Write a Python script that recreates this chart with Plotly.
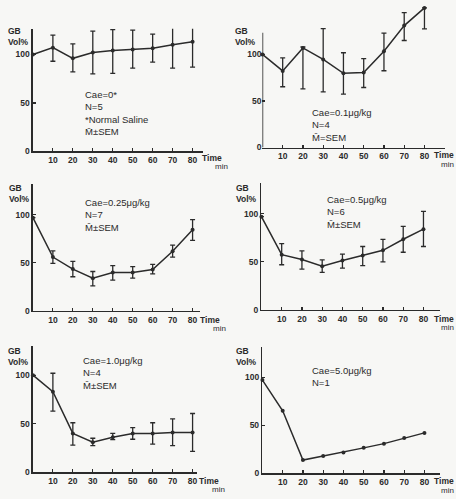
import plotly.graph_objects as go

W, H = 456, 499

times = [0, 10, 20, 30, 40, 50, 60, 70, 80]

# Panel 1: Cae = 0* (Normal Saline), N=5
p1_mean = [100, 107, 96, 102, 104, 105, 106.5, 110, 113]
p1_plus = [None, 13, 15, 22, 21.5, 20, 14.5, 22, 27]
p1_minus = [None, 14, 14, 22, 23.5, 19, 14.5, 24, 26]

# Panel 2: Cae = 0.1 ug/kg, N=4
p2_mean = [100, 82.3, 107, 94.7, 79.8, 80.5, 103.5, 131, 150]
p2_plus = [None, 14, 1, 33, 22, 15, 19.5, 14, None]
p2_minus = [None, 17, 44, 35, 22.5, 16, 21, 16, 22.5]

# Panel 3: Cae = 0.25 ug/kg, N=7
p3_mean = [97, 56, 43.5, 34, 40, 40, 43, 62, 84.5]
p3_plus = [None, 6.5, 8, 7, 7, 6, 5.5, 6.5, 10.5]
p3_minus = [None, 6.5, 8, 8, 8, 6, 4.5, 6, 11]

# Panel 4: Cae = 0.5 ug/kg, N=6
p4_mean = [97, 57.5, 52.5, 45.5, 51.5, 56.5, 62, 73.5, 84]
p4_plus = [None, 11.5, 9, 6.5, 6.5, 9.5, 11.5, 13.5, 18.5]
p4_minus = [None, 10.5, 10, 6.5, 8, 10.5, 12, 13.5, 18]

# Panel 5: Cae = 1.0 ug/kg, N=4
p5_mean = [100, 83, 40, 31, 36, 40, 40, 41, 41]
p5_plus = [None, 19, 11, 4, 4, 6, 11, 14, 19.5]
p5_minus = [None, 20, 12, 3.5, 2.5, 6, 11, 13.5, 19.5]

# Panel 6: Cae = 5.0 ug/kg, N=1
p6_mean = [97, 65, 13.7, 17.8, 21.6, 26.4, 30.8, 36.6, 42]

x_ticks = [10, 20, 30, 40, 50, 60, 70, 80]
y_ticks = [0, 50, 100]

labels = [
    ["Cae=0*", "N=5", "*Normal Saline", "M\u0304±SEM"],
    ["Cae=0.1\u03bcg/kg", "N=4", "M\u0304=SEM"],
    ["Cae=0.25\u03bcg/kg", "N=7", "M\u0304±SEM"],
    ["Cae=0.5\u03bcg/kg", "N=6", "M\u0304±SEM"],
    ["Cae=1.0\u03bcg/kg", "N=4", "M\u0304±SEM"],
    ["Cae=5.0\u03bcg/kg", "N=1"],
]

series = [
    (p1_mean, p1_plus, p1_minus),
    (p2_mean, p2_plus, p2_minus),
    (p3_mean, p3_plus, p3_minus),
    (p4_mean, p4_plus, p4_minus),
    (p5_mean, p5_plus, p5_minus),
    (p6_mean, None, None),
]

# pixel geometry of each panel
geom = [
    dict(x0=33, xend=203, y0=153, ytop=29, y100=55, p10=20.0, dtop=29),
    dict(x0=263, xend=446, y0=149, ytop=33, y100=55, p10=20.3, dtop=1),
    dict(x0=33, xend=200, y0=314, ytop=186, y100=217, p10=20.0, dtop=186),
    dict(x0=262, xend=441, y0=313, ytop=185, y100=216, p10=20.3, dtop=185),
    dict(x0=33, xend=197, y0=477, ytop=350, y100=379, p10=20.0, dtop=350),
    dict(x0=263, xend=441, y0=478, ytop=351, y100=381, p10=20.3, dtop=351),
]

text_pos = [
    dict(gbx=7, gby=31, voly=41, tx=84, ty=89, tmx=201, tmy=160, mny=168, right=False),
    dict(gbx=235, gby=31, voly=41, tx=312, ty=107, tmx=456, tmy=157, mny=166, right=True),
    dict(gbx=8, gby=190, voly=200, tx=84, ty=198, tmx=199, tmy=323, mny=332, right=False),
    dict(gbx=236, gby=190, voly=200, tx=327, ty=195, tmx=456, tmy=322, mny=331, right=True),
    dict(gbx=7, gby=354, voly=363, tx=82, ty=358, tmx=198, tmy=486, mny=494, right=False),
    dict(gbx=236, gby=354, voly=363, tx=312, ty=368, tmx=456, tmy=486, mny=495, right=True),
]

INK = "#2b2b2b"
NUMFONT = "Liberation Sans, Arial, sans-serif"
TXTFONT = "Liberation Sans, Arial, sans-serif"


def px(x):
    return x / W


def py(y):
    return 1 - y / H


fig = go.Figure()
annotations = []
shapes = []
layout = dict(
    width=W, height=H, autosize=False,
    margin=dict(l=0, r=0, t=0, b=0),
    paper_bgcolor="#f7f7f5", plot_bgcolor="rgba(0,0,0,0)",
    showlegend=False,
)

for i, (g, (mean, plus, minus)) in enumerate(zip(geom, series)):
    n = i + 1
    xa = "x" if n == 1 else f"x{n}"
    ya = "y" if n == 1 else f"y{n}"
    unit = (g["y0"] - g["y100"]) / 100.0
    xmax = (g["xend"] - g["x0"]) / g["p10"] * 10
    ymax = (g["y0"] - g["dtop"]) / unit
    err = None
    if plus is not None:
        err = dict(type="data", symmetric=False, array=plus, arrayminus=minus,
                   color=INK, thickness=1.3, width=2.5)
    fig.add_trace(go.Scatter(
        x=times, y=mean, xaxis=xa, yaxis=ya, mode="lines+markers",
        line=dict(color=INK, width=1.5),
        marker=dict(color=INK, size=4),
        error_y=err, cliponaxis=False, hoverinfo="skip",
    ))
    use_shape = g["dtop"] != g["ytop"]
    tf = dict(family=NUMFONT, size=8.5, color=INK, weight="bold")
    layout["xaxis" if n == 1 else f"xaxis{n}"] = dict(
        domain=[px(g["x0"]), px(g["xend"])], range=[0, xmax],
        anchor=ya, showgrid=False, zeroline=False, showline=True,
        linecolor=INK, linewidth=1.6, ticks="inside", ticklen=3,
        tickwidth=1.2, tickcolor=INK, tickvals=x_ticks, tickfont=tf,
    )
    layout["yaxis" if n == 1 else f"yaxis{n}"] = dict(
        domain=[py(g["y0"]), py(g["dtop"])], range=[0, ymax],
        anchor=xa, showgrid=False, zeroline=False, showline=not use_shape,
        linecolor=INK, linewidth=1.6, ticks="inside", ticklen=3,
        tickwidth=1.2, tickcolor=INK, tickvals=y_ticks, tickfont=tf,
    )
    if use_shape:
        shapes.append(dict(type="line", xref=xa, yref=ya, x0=0, x1=0, y0=0,
                           y1=(g["y0"] - g["ytop"]) / unit,
                           line=dict(color=INK, width=1.6)))

    t = text_pos[i]
    annotations.append(dict(text="GB<br>Vol%", x=px(t["gbx"]), y=py(t["gby"] - 6),
                            xref="paper", yref="paper", align="left",
                            xanchor="left", yanchor="top", showarrow=False, borderpad=0,
                            font=dict(family=NUMFONT, size=8.5, color=INK, weight="bold")))
    annotations.append(dict(text="<br>".join(labels[i]), x=px(t["tx"]), y=py(t["ty"]),
                            xref="paper", yref="paper", align="left",
                            xanchor="left", yanchor="top", showarrow=False, borderpad=0,
                            font=dict(family=TXTFONT, size=9.5, color=INK)))
    anc = "right" if t["right"] else "left"
    annotations.append(dict(text="Time", x=px(t["tmx"]), y=py(t["tmy"]), xref="paper", yref="paper",
                            xanchor=anc, yanchor="middle", showarrow=False, borderpad=0,
                            font=dict(family=NUMFONT, size=8.5, color=INK, weight="bold")))
    mnx = t["tmx"] if t["right"] else t["tmx"] + 13
    annotations.append(dict(text="min", x=px(mnx), y=py(t["mny"]), xref="paper", yref="paper",
                            xanchor=anc, yanchor="middle", showarrow=False, borderpad=0,
                            font=dict(family=TXTFONT, size=8, color=INK)))

layout["annotations"] = annotations
layout["shapes"] = shapes
fig.update_layout(**layout)
fig.write_html("out.html",
               config={"displayModeBar": False, "staticPlot": True},
               post_script="document.body.style.margin='0';document.body.style.padding='0';"
                           "document.documentElement.style.overflow='hidden';")
